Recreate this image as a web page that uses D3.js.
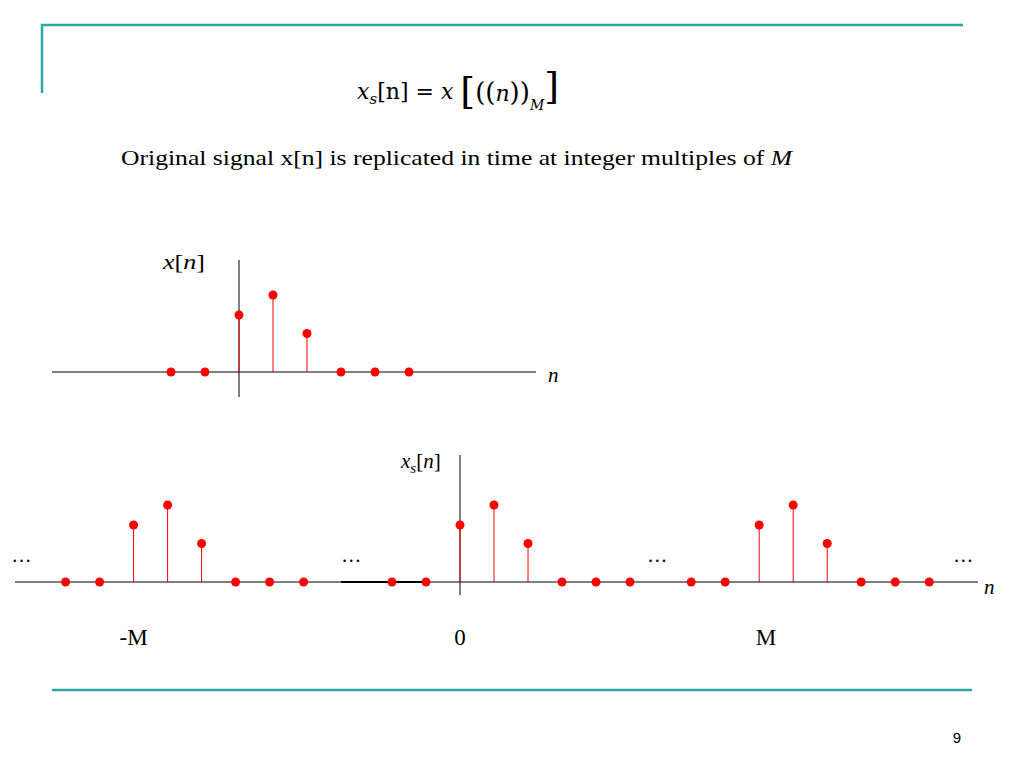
<!DOCTYPE html><html><head><meta charset="utf-8">
<script src="https://cdn.jsdelivr.net/npm/d3@7"></script>
<style>body{margin:0;background:#fff}</style></head><body><svg id="c" width="1024" height="768"></svg>
<script>
const xN = [-2,-1,0,1,2,3,4,5];
const xVals = [0,0,0.74,1,0.5,0,0,0];
const copyCenters = [-9.6,0,8.8];
const copyN = [-2,-1,0,1,2,3,4,5];
const copyVals = [0,0,0.74,1,0.5,0,0,0];
const dotsN = [-12.9,-3.2,5.8,14.8];
const tickNames = ["-M","0","M"];
const tickShift = [0,0,0.2];

const svg=d3.select("#c");
const teal="#2aa6a8";
svg.append("path").attr("d","M42,93V25H963").attr("fill","none").attr("stroke",teal).attr("stroke-width",2.5);
svg.append("line").attr("x1",52).attr("x2",972).attr("y1",690).attr("y2",690).attr("stroke",teal).attr("stroke-width",2.5);
svg.append("text").attr("x",957).attr("y",743).attr("text-anchor","middle").attr("font-family","Liberation Sans").attr("font-size",15).text("9");

const f=svg.append("text").attr("x",357).attr("y",99).attr("font-family","DejaVu Serif").attr("font-style","italic").attr("font-size",22);
f.append("tspan").text("x");f.append("tspan").attr("dy",5).attr("font-size",15).text("s");
f.append("tspan").attr("dy",-5).attr("font-style","normal").text("[n] = ");
f.append("tspan").text("x ");
f.append("tspan").attr("font-style","normal").attr("font-size",38).attr("dy",5).text("[");
f.append("tspan").attr("font-style","normal").attr("font-size",26).attr("dy",-3).text("((");
f.append("tspan").attr("font-size",22).text("n");
f.append("tspan").attr("font-style","normal").attr("font-size",26).text("))");
f.append("tspan").attr("dy",9).attr("font-size",14).text("M");
f.append("tspan").attr("font-style","normal").attr("font-size",38).attr("dy",-11).text("]");

svg.append("text").attr("x",121).attr("y",165).attr("font-family","Liberation Serif").attr("font-size",22).attr("textLength",671).attr("lengthAdjust","spacingAndGlyphs")
 .html('Original signal x[n] is replicated in time at integer multiples of <tspan font-style="italic">M</tspan>');

const serif="Liberation Serif";
const x1=d3.scaleLinear().domain([0,1]).range([239,273]);
const y1=d3.scaleLinear().domain([0,1]).range([372,295]);
svg.append("line").attr("x1",52).attr("x2",536).attr("y1",372).attr("y2",372).attr("stroke","#000");
svg.append("line").attr("x1",239).attr("x2",239).attr("y1",260).attr("y2",397).attr("stroke","#000");
svg.append("text").attr("x",163).attr("y",269).attr("font-family",serif).attr("font-size",21).attr("textLength",42).attr("lengthAdjust","spacingAndGlyphs").html('<tspan font-style="italic">x</tspan>[<tspan font-style="italic">n</tspan>]');
svg.append("text").attr("x",548).attr("y",382).attr("font-family",serif).attr("font-style","italic").attr("font-size",21).text("n");
const g1=svg.append("g");
xN.forEach((n,i)=>{
 g1.append("line").attr("x1",x1(n)).attr("x2",x1(n)).attr("y1",y1(0)).attr("y2",y1(xVals[i])).attr("stroke","red");
 g1.append("circle").attr("cx",x1(n)).attr("cy",y1(xVals[i])).attr("r",4.5).attr("fill","red");
});
const x2=d3.scaleLinear().domain([0,1]).range([460,494]);
const y2=d3.scaleLinear().domain([0,1]).range([582,505]);
svg.append("line").attr("x1",15).attr("x2",978).attr("y1",582).attr("y2",582).attr("stroke","#000");
svg.append("line").attr("x1",341).attr("x2",430).attr("y1",582).attr("y2",582).attr("stroke","#000").attr("stroke-width",2);
svg.append("line").attr("x1",460).attr("x2",460).attr("y1",455).attr("y2",595).attr("stroke","#000");
const xl=svg.append("text").attr("x",401).attr("y",468).attr("font-family",serif).attr("font-size",21);
xl.append("tspan").attr("font-style","italic").text("x");
xl.append("tspan").attr("font-style","italic").attr("font-size",15).attr("dy",5).text("s");
xl.append("tspan").attr("dy",-5).text("[");xl.append("tspan").attr("font-style","italic").text("n");xl.append("tspan").text("]");
svg.append("text").attr("x",984).attr("y",594).attr("font-family",serif).attr("font-style","italic").attr("font-size",21).text("n");
const g2=svg.append("g");
copyCenters.forEach((c,k)=>{
 copyN.forEach((n,i)=>{
  const px=x2(c+n);
  if(copyVals[i]>0) g2.append("line").attr("x1",px).attr("x2",px).attr("y1",y2(0)).attr("y2",y2(copyVals[i])).attr("stroke","red");
  g2.append("circle").attr("cx",px).attr("cy",y2(copyVals[i])).attr("r",4.5).attr("fill","red");
 });
 svg.append("text").attr("x",x2(c+tickShift[k])).attr("y",645).attr("text-anchor","middle").attr("font-family",serif).attr("font-size",23).text(tickNames[k]);
});
dotsN.forEach(n=>svg.append("text").attr("x",x2(n)).attr("y",562).attr("text-anchor","middle").attr("font-family",serif).attr("font-size",20).text("…"));
</script></body></html>
